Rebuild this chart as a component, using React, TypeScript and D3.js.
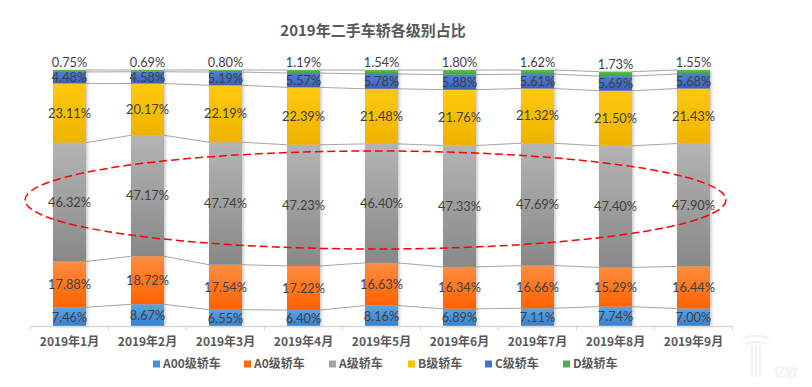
import React from "react";
import * as d3 from "d3";

const months = ["2019年1月","2019年2月","2019年3月","2019年4月","2019年5月","2019年6月","2019年7月","2019年8月","2019年9月"];
const seriesNames = ["A00级轿车","A0级轿车","A级轿车","B级轿车","C级轿车","D级轿车"];
const a00 = [7.46, 8.67, 6.55, 6.40, 8.16, 6.89, 7.11, 7.74, 7.00];
const a0 = [17.88, 18.72, 17.54, 17.22, 16.63, 16.34, 16.66, 15.29, 16.44];
const aLevel = [46.32, 47.17, 47.74, 47.23, 46.40, 47.33, 47.69, 47.40, 47.90];
const bLevel = [23.11, 20.17, 22.19, 22.39, 21.48, 21.76, 21.32, 21.50, 21.43];
const cLevel = [4.48, 4.58, 5.19, 5.57, 5.78, 5.88, 5.61, 5.69, 5.68];
const dLevel = [0.75, 0.69, 0.80, 1.19, 1.54, 1.80, 1.62, 1.73, 1.55];

const seriesValues = [a00, a0, aLevel, bLevel, cLevel, dLevel];
const legendColors = ["#4a90d9", "#ff6a10", "#a5a5a5", "#ffc000", "#4472c4", "#4caf50"];
const gradTop = ["#5ba3e6", "#ff8c40", "#b4b4b4", "#ffc90a", "#4f7fd6", "#5cc04c"];
const gradBottom = ["#3580cc", "#ff6200", "#888888", "#efb200", "#3a60bb", "#3fa536"];

const W = 812, H = 387;
const y0 = 326.5, y1 = 70;

export default function App() {
  const x = d3.scaleBand<string>().domain(months).range([30.5, 732.5]).paddingInner(0.577).paddingOuter(0.2885);
  const y = d3.scaleLinear().domain([0, 100]).range([y0, y1]);
  const keys = seriesNames.map((_, i) => "s" + i);
  const rows = months.map((m, j) => {
    const r: any = { month: m };
    keys.forEach((k, i) => (r[k] = seriesValues[i][j]));
    return r;
  });
  const stacked = d3.stack<any>().keys(keys)(rows);
  const bw = x.bandwidth();
  const step = x.step();
  const lineFont = "Lato, 'Noto Sans', sans-serif";
  const cjkFont = "'Noto Sans CJK SC', 'Noto Sans', sans-serif";

  const seriesLines: any[] = [];
  stacked.forEach((s, i) => {
    for (let j = 0; j < months.length - 1; j++) {
      seriesLines.push(
        <line key={`sl${i}-${j}`} x1={(x(months[j]) as number) + bw} x2={x(months[j + 1]) as number}
          y1={y(s[j][1])} y2={y(s[j + 1][1])} stroke="#a6a6a6" strokeWidth={1} />
      );
    }
  });

  const legendX = [153, 244, 329, 408, 485, 563];

  return (
    <svg width={W} height={H} style={{ display: "block", position: "absolute", left: 0, top: 0 }}>
      <defs>
        {keys.map((k, i) => (
          <linearGradient key={k} id={`g${i}`} x1="0" y1="0" x2="0" y2="1">
            <stop offset="0%" stopColor={gradTop[i]} />
            <stop offset="100%" stopColor={gradBottom[i]} />
          </linearGradient>
        ))}
        <filter id="sh" x="-30%" y="-5%" width="160%" height="110%">
          <feDropShadow dx="1.5" dy="0" stdDeviation="1.5" floodColor="#808080" floodOpacity="0.45" />
        </filter>
      </defs>
      <rect width={W} height={H} fill="#ffffff" />
      <text x={373} y={35.5} textAnchor="middle" fontFamily={cjkFont} fontWeight="bold" fontSize={15} fill="#595959">
        2019年二手车轿各级别占比
      </text>

      {seriesLines}

      <g filter="url(#sh)">
        {stacked.map((s, i) =>
          s.map((d, j) => (
            <rect key={`r${i}-${j}`} x={x(months[j]) as number} width={bw}
              y={y(d[1])} height={y(d[0]) - y(d[1])} fill={`url(#g${i})`} />
          ))
        )}
      </g>

      {stacked.map((s, i) =>
        s.map((d, j) => {
          const cx = (x(months[j]) as number) + bw / 2;
          const cy = i === 5 ? y(d[1]) - 7.5 : (y(d[0]) + y(d[1])) / 2;
          return (
            <text key={`t${i}-${j}`} x={cx} y={cy} dy="0.36em" textAnchor="middle"
              fontFamily={lineFont} fontSize={12.8} fill="#3f3f3f">
              {seriesValues[i][j].toFixed(2) + "%"}
            </text>
          );
        })
      )}

      <ellipse cx={375.5} cy={200} rx={350.5} ry={49} fill="none" stroke="#ff0000" strokeWidth={1.5} strokeDasharray="8 4" />

      <line x1={30} x2={733} y1={y0} y2={y0} stroke="#d9d9d9" strokeWidth={1.5} />
      {d3.range(months.length + 1).map((i) => {
        const tx = 30.5 + i * step;
        return <line key={`tk${i}`} x1={tx} x2={tx} y1={y0} y2={y0 + 4} stroke="#d9d9d9" strokeWidth={1} />;
      })}
      {months.map((m) => (
        <text key={m} x={(x(m) as number) + bw / 2} y={342} dy="0.36em" textAnchor="middle"
          fontFamily={cjkFont} fontWeight="bold" fontSize={12} fill="#595959">
          {m}
        </text>
      ))}

      {seriesNames.map((n, i) => (
        <g key={n}>
          <rect x={legendX[i]} y={360.5} width={7} height={7} fill={legendColors[i]} />
          <text x={legendX[i] + 10} y={364} dy="0.36em" fontFamily={cjkFont} fontWeight="bold" fontSize={12} fill="#595959">
            {n}
          </text>
        </g>
      ))}

      <g fill="none" stroke="#f0f0f0" strokeWidth={2}>
        <path d="M742,338 Q756,334 770,338" />
        <path d="M745,344 Q756,340 767,344" />
        <path d="M752,346 L752,377" />
        <path d="M756,346 L756,377" />
        <path d="M760,346 L760,377" />
      </g>
      <text x={786} y={377} textAnchor="middle" fontFamily={cjkFont} fontSize={12} fill="#ebebeb">亿欧</text>
    </svg>
  );
}
